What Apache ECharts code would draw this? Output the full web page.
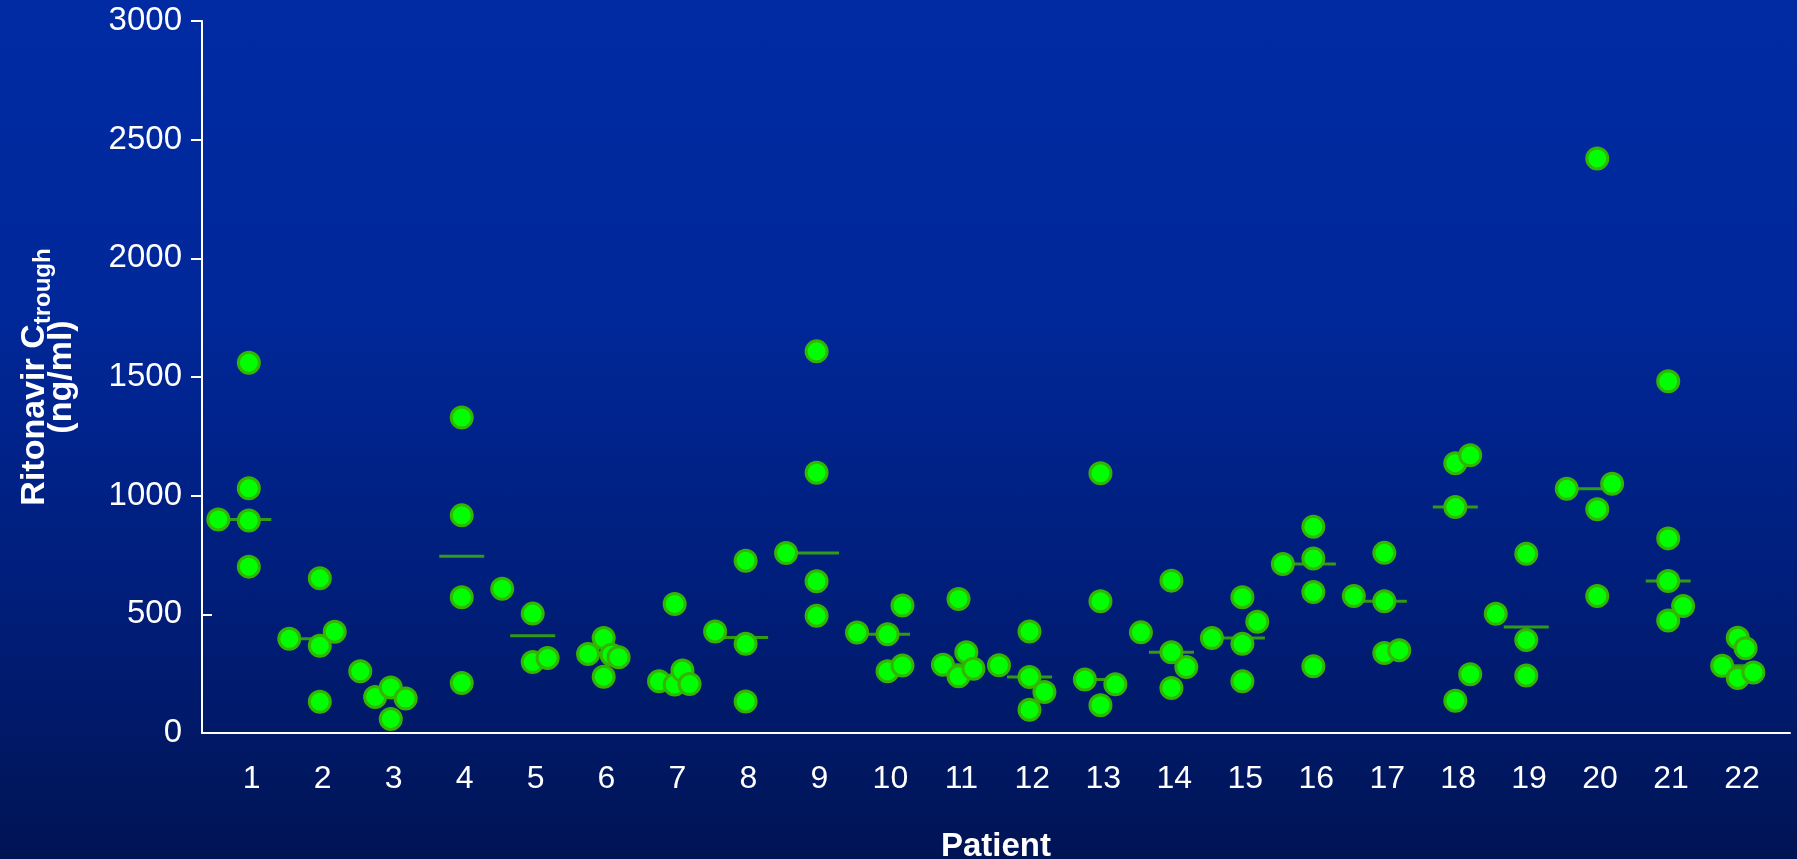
<!DOCTYPE html>
<html>
<head>
<meta charset="utf-8">
<script src="https://cdn.jsdelivr.net/npm/echarts@6/dist/echarts.min.js"></script>
<style>
html,body{margin:0;padding:0;}
#chart{width:1797px;height:859px;background:linear-gradient(to bottom,#002ba3 0%,#00289a 35%,#001c74 75%,#001454 100%);}
</style>
</head>
<body>
<div id="chart"></div>
<script>
// Patient categories
const patients = ['1','2','3','4','5','6','7','8','9','10','11','12','13','14','15','16','17','18','19','20','21','22'];
// Ritonavir Ctrough values (ng/ml), one list per patient
const ctrough = [
  [900, 1560, 1031, 895, 701],
  [397, 652, 368, 132, 427],
  [260, 152, 192, 59, 145],
  [1329, 917, 572, 211],
  [608, 503, 299, 316],
  [333, 400, 237, 330, 319],
  [218, 544, 204, 263, 206],
  [428, 726, 376, 133],
  [758, 1608, 1097, 639, 494],
  [423, 416, 260, 284, 537],
  [288, 565, 239, 340, 271],
  [285, 428, 236, 98, 173],
  [225, 1094, 555, 117, 205],
  [424, 642, 340, 190, 278],
  [400, 572, 376, 218, 469],
  [712, 869, 735, 594, 281],
  [577, 759, 555, 337, 349],
  [1137, 1170, 952, 248, 136],
  [502, 755, 392, 242],
  [1029, 2421, 943, 577, 1050],
  [1482, 820, 640, 474, 535],
  [283, 401, 357, 232, 255]
];
// horizontal jitter of each point within its patient column (in patient units)
const jitter = [
  [-0.47, -0.04, -0.04, -0.04, -0.04],
  [-0.47, -0.04, -0.04, -0.04, 0.17],
  [-0.47, -0.26, -0.04, -0.04, 0.17],
  [-0.04, -0.04, -0.04, -0.04],
  [-0.47, -0.04, -0.04, 0.17],
  [-0.26, -0.04, -0.04, 0.07, 0.17],
  [-0.26, -0.04, -0.04, 0.07, 0.17],
  [-0.47, -0.04, -0.04, -0.04],
  [-0.47, -0.04, -0.04, -0.04, -0.04],
  [-0.47, -0.04, -0.04, 0.17, 0.17],
  [-0.26, -0.04, -0.04, 0.07, 0.17],
  [-0.47, -0.04, -0.04, -0.04, 0.17],
  [-0.26, -0.04, -0.04, -0.04, 0.17],
  [-0.47, -0.04, -0.04, -0.04, 0.17],
  [-0.47, -0.04, -0.04, -0.04, 0.17],
  [-0.47, -0.04, -0.04, -0.04, -0.04],
  [-0.47, -0.04, -0.04, -0.04, 0.17],
  [-0.04, 0.17, -0.04, 0.17, -0.04],
  [-0.47, -0.04, -0.04, -0.04],
  [-0.47, -0.04, -0.04, -0.04, 0.17],
  [-0.04, -0.04, -0.04, -0.04, 0.17],
  [-0.28, -0.06, 0.05, -0.06, 0.16]
];
// median per patient (horizontal bars)
const medians = [900, 397, 152, 745, 410, 330, 218, 402, 758, 416, 288, 236, 225, 340, 400, 712, 555, 952, 447, 1029, 640, 283];
const medianShift = -0.04;
// y-axis tick labels
const yTicks = [0, 500, 1000, 1500, 2000, 2500, 3000];
const yTicksOut = [1000, 1500, 2000, 2500, 3000];
const yTicksIn = [500];

const pointData = [];
patients.forEach((p, i) => {
  ctrough[i].forEach((v, j) => pointData.push([i + 1 + jitter[i][j], v]));
});
const medianData = medians.map((m, i) => [i + 1 + medianShift, m]);

const chart = echarts.init(document.getElementById('chart'), null, {renderer: 'canvas'});
const font = '"Liberation Sans", Arial, sans-serif';
chart.setOption({
  backgroundColor: 'transparent',
  animation: false,
  grid: {left: 202, right: 7, top: 21, bottom: 126, containLabel: false, outerBoundsMode: 'none'},
  xAxis: {
    type: 'value',
    min: 0.3,
    max: 22.676,
    name: 'Patient',
    nameLocation: 'middle',
    nameGap: 97,
    nameTextStyle: {color: '#ffffff', fontSize: 33, fontWeight: 'bold', fontFamily: font},
    axisLine: {show: true, onZero: false, lineStyle: {color: '#ffffff', width: 2}},
    axisTick: {show: false},
    splitLine: {show: false},
    axisLabel: {
      customValues: patients.map((p, i) => i + 1),
      formatter: v => patients[Math.round(v) - 1],
      color: '#ffffff', fontSize: 32, fontFamily: font, margin: 30
    }
  },
  yAxis: [
    {
      type: 'value',
      min: 0,
      max: 3000,
      interval: 500,
      name: '{a|Ritonavir C}{s|trough}\n{a|(ng/ml)}',
      nameLocation: 'middle',
      nameGap: 127,
      nameRotate: 90,
      nameTextStyle: {
        color: '#ffffff', fontFamily: font, align: 'center',
        rich: {
          a: {color: '#ffffff', fontSize: 34, fontWeight: 'bold', fontFamily: font, lineHeight: 27},
          s: {color: '#ffffff', fontSize: 24, fontWeight: 'bold', fontFamily: font, lineHeight: 24, verticalAlign: 'top', padding: [10, 0, 0, 0]}
        }
      },
      axisLine: {show: true, lineStyle: {color: '#ffffff', width: 2}},
      axisTick: {show: true, length: 11, customValues: yTicksOut, lineStyle: {color: '#ffffff', width: 2}},
      splitLine: {show: false},
      axisLabel: {
        formatter: v => (yTicks.indexOf(v) >= 0 ? String(v) : ''),
        color: '#ffffff', fontSize: 33, fontFamily: font, margin: 20
      }
    },
    {
      type: 'value',
      position: 'left',
      min: 0,
      max: 3000,
      interval: 500,
      axisLine: {show: false},
      axisTick: {show: true, inside: true, length: 10, customValues: yTicksIn, lineStyle: {color: '#ffffff', width: 2}},
      axisLabel: {show: false},
      splitLine: {show: false}
    }
  ],
  series: [
    {
      type: 'scatter',
      data: medianData,
      symbol: 'rect',
      symbolSize: [45, 3],
      itemStyle: {color: '#3cbb00'},
      z: 2,
      silent: true
    },
    {
      type: 'scatter',
      data: pointData,
      symbol: 'circle',
      symbolSize: 21,
      itemStyle: {color: '#00ff00', borderColor: '#33b400', borderWidth: 3, opacity: 1},
      z: 3,
      silent: true
    }
  ]
});
</script>
</body>
</html>
